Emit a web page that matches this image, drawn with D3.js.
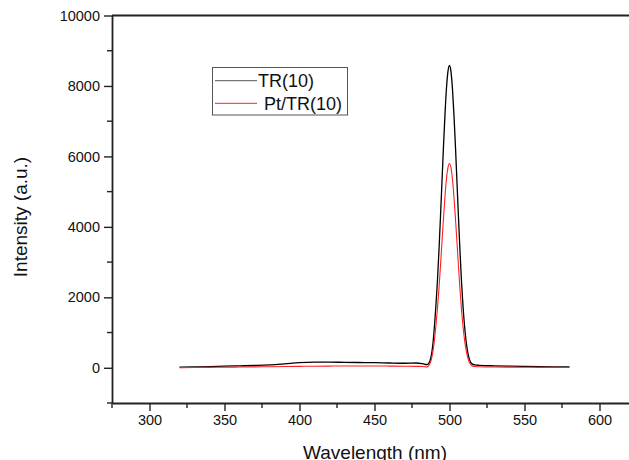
<!DOCTYPE html>
<html>
<head>
<meta charset="utf-8">
<script src="https://cdn.jsdelivr.net/npm/d3@7"></script>
<style>
  html, body { margin: 0; padding: 0; background: #fff; }
  svg { display: block; font-family: "Liberation Sans", Arial, sans-serif; }
</style>
</head>
<body>
<svg id="chart" width="629" height="460"></svg>
<script>
// ---- data ----
const wavelengths = [320,330,340,350,360,370,380,390,400,410,420,430,440,450,460,470,478,482,485,
  487,488,489,490,491,492,493,494,495,496,497,498,499,500,501,502,503,504,505,506,507,508,509,510,
  511,512,513,514,515,517,520,530,540,550,560,570,580];
const trValues = [20,25,32,45,55,65,80,110,145,158,160,155,150,145,135,128,135,115,90,
  200,380,700,1200,1800,2500,3350,4300,5300,6300,7200,7950,8420,8580,8400,7900,7150,6250,5250,4250,3300,2450,1750,1200,
  780,480,280,160,110,80,70,55,45,38,32,28,25];
const ptTrValues = [5,8,12,15,20,25,30,35,40,45,48,50,50,50,48,45,40,35,25,
  120,250,470,800,1220,1700,2260,2900,3580,4250,4870,5370,5690,5800,5680,5340,4830,4220,3550,2870,2230,1650,1180,800,
  520,320,180,100,60,35,30,22,18,15,12,10,8];
const seriesNames = ["TR(10)", "Pt/TR(10)"];
const seriesColors = ["#000000", "#ff2020"];
const xTicks = [300,350,400,450,500,550,600];
const yTicks = [0,2000,4000,6000,8000,10000];
const xMinorTicks = [275,325,375,425,475,525,575,625];
const yMinorTicks = [-1000,1000,3000,5000,7000,9000];

// ---- layout ----
const svg = d3.select("#chart");
const plotLeft = 112, plotRight = 637, plotTop = 15.5, plotBottom = 403;
const x = d3.scaleLinear().domain([275, 625]).range([plotLeft, plotRight]);
const y = d3.scaleLinear().domain([-1000, 10000]).range([plotBottom, plotTop]);

const axisColor = "#222";

// top frame line
svg.append("line").attr("x1", plotLeft).attr("x2", 629).attr("y1", plotTop).attr("y2", plotTop)
  .attr("stroke", axisColor).attr("stroke-width", 1.8);

// x axis
const gx = svg.append("g").attr("transform", `translate(0,${plotBottom})`);
gx.call(d3.axisBottom(x).tickValues(xTicks).tickSize(8).tickSizeOuter(0).tickPadding(4).tickFormat(d3.format("d")));
gx.selectAll(".minor").data(xMinorTicks).enter().append("line")
  .attr("class", "minor")
  .attr("x1", d => x(d)).attr("x2", d => x(d)).attr("y1", 0).attr("y2", 5)
  .attr("stroke", axisColor).attr("stroke-width", 1.4);

// y axis
const gy = svg.append("g").attr("transform", `translate(${plotLeft},0)`);
gy.call(d3.axisLeft(y).tickValues(yTicks).tickSize(8).tickSizeOuter(0).tickPadding(4).tickFormat(d3.format("d")));
gy.selectAll(".minor").data(yMinorTicks).enter().append("line")
  .attr("class", "minor")
  .attr("x1", 0).attr("x2", -5).attr("y1", d => y(d)).attr("y2", d => y(d))
  .attr("stroke", axisColor).attr("stroke-width", 1.4);

[gx, gy].forEach(g => {
  g.select(".domain").attr("stroke", axisColor).attr("stroke-width", 1.8);
  g.selectAll(".tick line").attr("stroke", axisColor).attr("stroke-width", 1.4);
  g.selectAll(".tick text").attr("fill", "#111").style("font-size", "14.5px")
    .style("font-family", '"Liberation Sans", Arial, sans-serif');
});

// axis titles
svg.append("text").attr("x", 375).attr("y", 458.5).attr("text-anchor", "middle")
  .style("font-size", "19px").attr("fill", "#111").text("Wavelength (nm)");
svg.append("text").attr("transform", "translate(27,217) rotate(-90)").attr("text-anchor", "middle")
  .style("font-size", "19px").attr("fill", "#111").text("Intensity (a.u.)");

// lines
const line = d3.line().x(d => x(d[0])).y(d => y(d[1])).curve(d3.curveMonotoneX);
const seriesData = [trValues, ptTrValues];
seriesData.forEach((vals, i) => {
  svg.append("path")
    .datum(wavelengths.map((w, j) => [w, vals[j]]))
    .attr("fill", "none")
    .attr("stroke", seriesColors[i])
    .attr("stroke-width", i === 0 ? 1.3 : 1.1)
    .attr("stroke-linejoin", "round")
    .attr("d", line);
});

// legend
const lg = svg.append("g");
lg.append("rect").attr("x", 212.5).attr("y", 67.5).attr("width", 135).attr("height", 47.5)
  .attr("fill", "#fff").attr("stroke", "#555").attr("stroke-width", 1);
const legendRows = [{ly: 80.7, tx: 258}, {ly: 103.3, tx: 264}];
legendRows.forEach((r, i) => {
  lg.append("line").attr("x1", 215).attr("x2", 257).attr("y1", r.ly).attr("y2", r.ly)
    .attr("stroke", i === 0 ? "#555" : seriesColors[i]).attr("stroke-width", 1);
  lg.append("text").attr("x", r.tx).attr("y", r.ly + 6.5).style("font-size", "18px")
    .attr("fill", "#111").text(seriesNames[i]);
});
</script>
</body>
</html>
